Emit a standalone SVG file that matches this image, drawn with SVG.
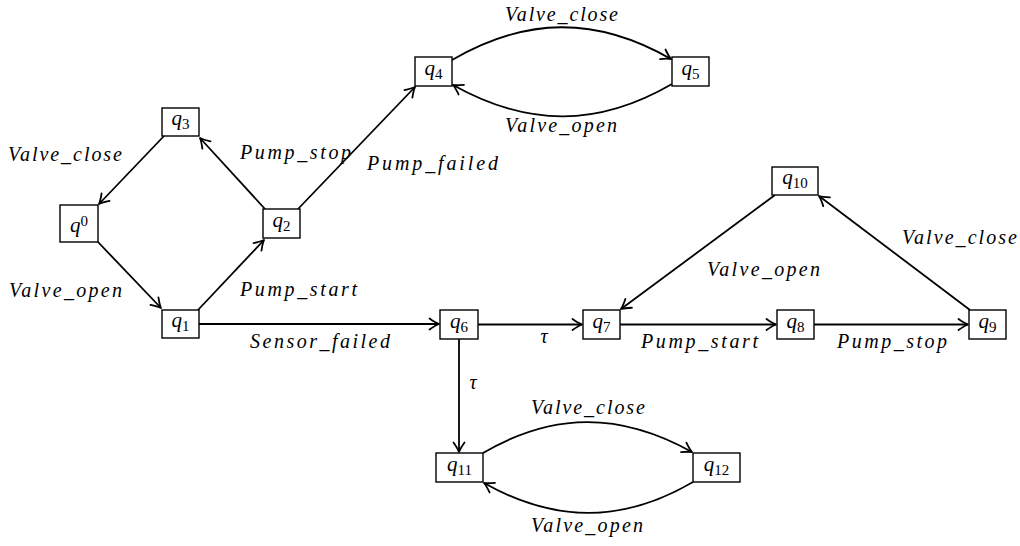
<svg xmlns="http://www.w3.org/2000/svg" width="1020" height="546" viewBox="0 0 1020 546">
<style>
.box{fill:#fff;stroke:#000;stroke-width:1.4}
.edge{fill:none;stroke:#000;stroke-width:1.8;marker-end:url(#arr)}
.q{font-family:"Liberation Serif",serif;font-size:21px;fill:#000}
.qi{font-style:italic}
.sub{font-size:15px}
.lbl{font-family:"Liberation Serif",serif;font-style:italic;font-size:20px;fill:#000}
</style>
<defs>
<marker id="arr" viewBox="-12 -7 14 14" refX="0" refY="0" markerWidth="14" markerHeight="14" orient="auto" markerUnits="userSpaceOnUse">
<path d="M-9.5,-5.5 Q-3.5,-1.3 0,0 Q-3.5,1.3 -9.5,5.5" fill="none" stroke="#000" stroke-width="1.8" stroke-linecap="round" stroke-linejoin="round"/>
</marker>
</defs>
<rect width="1020" height="546" fill="#fff"/>
<g id="connectors">
<path class="edge" d="M98,242 L161,308"/>
<path class="edge" d="M198,310 L264,240"/>
<path class="edge" d="M265,209 L200,138"/>
<path class="edge" d="M164,136 L99,204"/>
<path class="edge" d="M298,209 L415,87"/>
<path class="edge" d="M199,324 L439,324"/>
<path class="edge" d="M478,324.5 L582,324.5"/>
<path class="edge" d="M620,324.5 L776,324.5"/>
<path class="edge" d="M814,324.5 L968,324.5"/>
<path class="edge" d="M970,310 L819,196"/>
<path class="edge" d="M775,195 L621,309"/>
<path class="edge" d="M459,339 L459,452"/>
<path class="edge" d="M452,60 C526,17 596,16 671,59"/>
<path class="edge" d="M672,84 C598,127 528,127 453,85"/>
<path class="edge" d="M483,453 C553,412 620,412 692,452"/>
<path class="edge" d="M693,482 C623,523 555,523 484,483"/>
<g id="edge-labels">
<text class="lbl" x="8" y="161" textLength="114" lengthAdjust="spacing">Valve_close</text>
<text class="lbl" x="9" y="297" textLength="113" lengthAdjust="spacing">Valve_open</text>
<text class="lbl" x="240" y="159" textLength="111" lengthAdjust="spacing">Pump_stop</text>
<text class="lbl" x="367" y="170" textLength="131" lengthAdjust="spacing">Pump_failed</text>
<text class="lbl" x="240" y="296" textLength="117" lengthAdjust="spacing">Pump_start</text>
<text class="lbl" x="250" y="348" textLength="140" lengthAdjust="spacing">Sensor_failed</text>
<text class="lbl" x="505" y="21" textLength="113" lengthAdjust="spacing">Valve_close</text>
<text class="lbl" x="505" y="132" textLength="112" lengthAdjust="spacing">Valve_open</text>
<text class="lbl" x="544" y="343" text-anchor="middle">τ</text>
<text class="lbl" x="473" y="389" text-anchor="middle">τ</text>
<text class="lbl" x="641" y="348" textLength="117" lengthAdjust="spacing">Pump_start</text>
<text class="lbl" x="837" y="348" textLength="110" lengthAdjust="spacing">Pump_stop</text>
<text class="lbl" x="707" y="276" textLength="113" lengthAdjust="spacing">Valve_open</text>
<text class="lbl" x="902" y="244" textLength="115" lengthAdjust="spacing">Valve_close</text>
<text class="lbl" x="531" y="414" textLength="114" lengthAdjust="spacing">Valve_close</text>
<text class="lbl" x="531" y="532" textLength="112" lengthAdjust="spacing">Valve_open</text>
</g>
</g>
<g id="q0"><rect class="box" x="60" y="205" width="38" height="37"/><text class="q" x="79" y="232" text-anchor="middle"><tspan class="qi">q</tspan><tspan class="sub" dy="-6">0</tspan></text></g>
<g id="q1"><rect class="box" x="162" y="310" width="37" height="28"/><text class="q" x="180.5" y="327" text-anchor="middle"><tspan class="qi">q</tspan><tspan class="sub" dy="4">1</tspan></text></g>
<g id="q2"><rect class="box" x="263" y="209" width="37" height="29"/><text class="q" x="281.5" y="226.5" text-anchor="middle"><tspan class="qi">q</tspan><tspan class="sub" dy="4">2</tspan></text></g>
<g id="q3"><rect class="box" x="162" y="108" width="37" height="28"/><text class="q" x="180.5" y="125" text-anchor="middle"><tspan class="qi">q</tspan><tspan class="sub" dy="4">3</tspan></text></g>
<g id="q4"><rect class="box" x="415" y="57" width="37" height="29"/><text class="q" x="433.5" y="74.5" text-anchor="middle"><tspan class="qi">q</tspan><tspan class="sub" dy="4">4</tspan></text></g>
<g id="q5"><rect class="box" x="672" y="57" width="37" height="29"/><text class="q" x="690.5" y="74.5" text-anchor="middle"><tspan class="qi">q</tspan><tspan class="sub" dy="4">5</tspan></text></g>
<g id="q6"><rect class="box" x="440" y="310" width="38" height="29"/><text class="q" x="459" y="327.5" text-anchor="middle"><tspan class="qi">q</tspan><tspan class="sub" dy="4">6</tspan></text></g>
<g id="q7"><rect class="box" x="583" y="310" width="37" height="29"/><text class="q" x="601.5" y="327.5" text-anchor="middle"><tspan class="qi">q</tspan><tspan class="sub" dy="4">7</tspan></text></g>
<g id="q8"><rect class="box" x="777" y="310" width="37" height="29"/><text class="q" x="795.5" y="327.5" text-anchor="middle"><tspan class="qi">q</tspan><tspan class="sub" dy="4">8</tspan></text></g>
<g id="q9"><rect class="box" x="969" y="310" width="37" height="29"/><text class="q" x="987.5" y="327.5" text-anchor="middle"><tspan class="qi">q</tspan><tspan class="sub" dy="4">9</tspan></text></g>
<g id="q10"><rect class="box" x="772" y="167" width="46" height="28"/><text class="q" x="795" y="184" text-anchor="middle"><tspan class="qi">q</tspan><tspan class="sub" dy="4">10</tspan></text></g>
<g id="q11"><rect class="box" x="436" y="453" width="47" height="29"/><text class="q" x="459.5" y="470.5" text-anchor="middle"><tspan class="qi">q</tspan><tspan class="sub" dy="4">11</tspan></text></g>
<g id="q12"><rect class="box" x="693" y="453" width="47" height="29"/><text class="q" x="716.5" y="470.5" text-anchor="middle"><tspan class="qi">q</tspan><tspan class="sub" dy="4">12</tspan></text></g>
</svg>
